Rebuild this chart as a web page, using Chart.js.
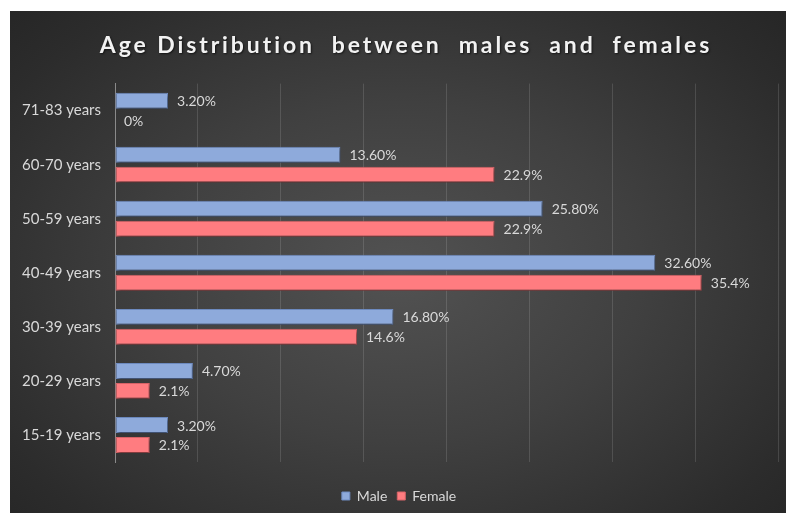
<!DOCTYPE html>
<html>
<head>
<meta charset="utf-8">
<script src="https://cdn.jsdelivr.net/npm/chart.js@4"></script>
<style>
  html, body { margin: 0; padding: 0; background: #ffffff; }
  #wrap {
    position: absolute; left: 10px; top: 11px; width: 776px; height: 502px;
    background: radial-gradient(ellipse 70% 75% at 50% 52%, #525252 0%, #404040 45%, #2c2c2c 85%, #262626 100%);
  }
  canvas { display: block; }
</style>
</head>
<body>
<div id="wrap"><canvas id="c" width="776" height="502"></canvas></div>
<script>
const categories = ['71-83 years', '60-70 years', '50-59 years', '40-49 years', '30-39 years', '20-29 years', '15-19 years'];
const maleValues = [3.2, 13.6, 25.8, 32.6, 16.8, 4.7, 3.2];
const femaleValues = [0, 22.9, 22.9, 35.4, 14.6, 2.1, 2.1];
const maleLabels = ['3.20%', '13.60%', '25.80%', '32.60%', '16.80%', '4.70%', '3.20%'];
const femaleLabels = ['0%', '22.9%', '22.9%', '35.4%', '14.6%', '2.1%', '2.1%'];
const seriesNames = ['Male', 'Female'];

const FONT = 'Lato, "Open Sans", sans-serif';
const TEXT = '#d9d9d9';

const shadowPlugin = {
  id: 'barShadow',
  beforeDatasetsDraw(chart) {
    const ctx = chart.ctx;
    ctx.save();
    ctx.shadowColor = 'rgba(0,0,0,0.55)';
    ctx.shadowBlur = 3;
    ctx.shadowOffsetX = 1;
    ctx.shadowOffsetY = 2;
  },
  afterDatasetsDraw(chart) {
    chart.ctx.restore();
  }
};

const titleSpacingPlugin = {
  id: 'titleSpacing',
  afterLayout(chart) {
    const t = chart.titleBlock;
    if (t && !t._spaced) {
      const orig = t.draw.bind(t);
      t.draw = function () {
        const ctx = chart.ctx;
        ctx.save();
        ctx.translate(7, 0);
        ctx.letterSpacing = '2.9px';
        ctx.shadowColor = 'rgba(0,0,0,0.6)';
        ctx.shadowBlur = 2;
        ctx.shadowOffsetX = 1;
        ctx.shadowOffsetY = 1;
        orig();
        ctx.restore();
      };
      t._spaced = true;
    }
  }
};

const labelPlugin = {
  id: 'valueLabels',
  afterDraw(chart) {
    const ctx = chart.ctx;
    const sets = [maleLabels, femaleLabels];
    ctx.save();
    ctx.font = '14px ' + FONT;
    ctx.fillStyle = TEXT;
    ctx.textAlign = 'left';
    ctx.textBaseline = 'middle';
    chart.data.datasets.forEach((ds, di) => {
      const meta = chart.getDatasetMeta(di);
      meta.data.forEach((el, i) => {
        ctx.fillText(sets[di][i], el.x + 9, el.y + 1);
      });
    });
    ctx.restore();
  }
};

new Chart(document.getElementById('c'), {
  type: 'bar',
  data: {
    labels: categories,
    datasets: [
      {
        label: seriesNames[0],
        data: maleValues,
        backgroundColor: '#8eaadb',
        borderColor: '#6f8cc2',
        borderWidth: 1,
        borderSkipped: false,
        categoryPercentage: 0.737,
        barPercentage: 0.8
      },
      {
        label: seriesNames[1],
        data: femaleValues,
        backgroundColor: '#ff7c80',
        borderColor: '#d86468',
        borderWidth: 1,
        borderSkipped: false,
        categoryPercentage: 0.737,
        barPercentage: 0.8
      }
    ]
  },
  options: {
    indexAxis: 'y',
    responsive: false,
    animation: false,
    devicePixelRatio: 1,
    layout: { padding: { left: 10, right: 8, top: 0, bottom: 0 } },
    scales: {
      x: {
        min: 0,
        max: 40,
        ticks: { display: false, stepSize: 5 },
        grid: { color: 'rgba(255,255,255,0.13)', lineWidth: 1, drawTicks: false },
        border: { display: false },
        afterFit(scale) { scale.height = 17; }
      },
      y: {
        ticks: { color: TEXT, font: { family: FONT, size: 15 }, padding: 14 },
        grid: { display: false, drawTicks: false },
        border: { display: true, color: '#8a8a8a', width: 1 },
        afterFit(scale) { scale.width = 95; }
      }
    },
    plugins: {
      title: {
        display: true,
        text: 'Age Distribution  between  males  and  females',
        color: '#f2f2f2',
        font: { family: FONT, size: 23, weight: 'bold' },
        padding: { top: 21, bottom: 24 }
      },
      legend: {
        position: 'bottom',
        labels: {
          color: TEXT,
          font: { family: FONT, size: 14 },
          boxWidth: 8,
          boxHeight: 8,
          padding: 10
        }
      },
      tooltip: { enabled: false }
    }
  },
  plugins: [shadowPlugin, titleSpacingPlugin, labelPlugin]
});
</script>
</body>
</html>
